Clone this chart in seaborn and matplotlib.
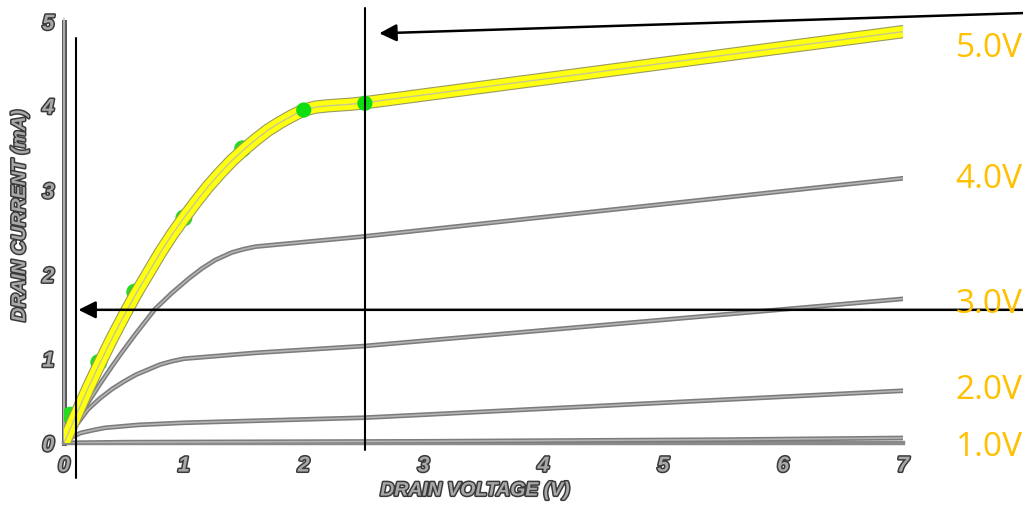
import matplotlib
matplotlib.use("Agg")
import matplotlib.pyplot as plt
import matplotlib.patheffects as pe
import numpy as np
import pandas as pd
import seaborn as sns

# ---------------- data ----------------
v_5v = [0, 0.1, 0.2, 0.3, 0.4, 0.5, 0.6, 0.7, 0.8, 0.9, 1.0, 1.1, 1.2, 1.3,
        1.4, 1.5, 1.6, 1.7, 1.8, 1.9, 2.0, 2.1, 2.2, 2.3, 2.4, 2.5, 7]
i_5v = [0, 0.33, 0.65, 0.95, 1.24, 1.51, 1.77, 2.01, 2.25, 2.47, 2.67, 2.86,
        3.04, 3.20, 3.35, 3.48, 3.60, 3.71, 3.80, 3.88, 3.95, 3.985, 4.0,
        4.01, 4.02, 4.035, 4.88]

v_4v = [0, 0.1, 0.2, 0.3, 0.4, 0.48, 0.6, 0.76, 0.9, 1.04, 1.15, 1.26, 1.4,
        1.5, 1.6, 2.5, 7]
i_4v = [0, 0.25, 0.48, 0.70, 0.91, 1.07, 1.30, 1.59, 1.78, 1.95, 2.07, 2.17,
        2.26, 2.30, 2.33, 2.45, 3.14]

v_3v = [0, 0.1, 0.2, 0.3, 0.4, 0.5, 0.6, 0.7, 0.8, 0.9, 1.0, 1.6, 2.5, 7]
i_3v = [0, 0.21, 0.40, 0.53, 0.64, 0.73, 0.81, 0.87, 0.93, 0.97, 1.0, 1.07,
        1.15, 1.71]

v_2v = [0, 0.05, 0.14, 0.25, 0.34, 0.5, 0.62, 1.0, 2.5, 7]
i_2v = [0, 0.06, 0.12, 0.155, 0.18, 0.20, 0.215, 0.24, 0.30, 0.62]

v_1v = [0, 0.5, 3, 5.5, 7]
i_1v = [0, 0.01, 0.02, 0.04, 0.06]

dot_v = [0.05, 0.29, 0.59, 1.0, 1.49, 2.0, 2.51]
dot_i = [0.33, 0.955, 1.79, 2.67, 3.49, 3.95, 4.03]
dot_on_top = [False, False, False, False, False, True, True]

gate_labels = ["5.0V", "4.0V", "3.0V", "2.0V", "1.0V"]
gate_label_y = [4.69, 3.14, 1.66, 0.63, -0.04]
gate_label_x = 7.44

x_ticks = [0, 1, 2, 3, 4, 5, 6, 7]
y_ticks = [0, 1, 2, 3, 4, 5]
x_label = "DRAIN VOLTAGE (V)"
y_label = "DRAIN CURRENT (mA)"

# annotation guides (data coordinates)
vline_x = 2.51
vline_y = [-0.08, 5.16]
leftline_x = 0.10
leftline_y = [-0.42, 4.80]
arrow_top_tail = (8.0, 5.10)
arrow_top_head = (2.63, 4.86)
arrow_mid_tail = (8.0, 1.58)
arrow_mid_head = (0.12, 1.58)

# ---------------- figure ----------------
sns.set_theme(style="white")
plt.rcParams["font.family"] = ["Liberation Sans", "DejaVu Sans"]

fig = plt.figure(figsize=(10.23, 5.06), dpi=100)
ax = fig.add_axes([0.0626, 0.1225, 0.8201, 0.833])

gray_curves = [(v_4v, i_4v), (v_3v, i_3v), (v_2v, i_2v), (v_1v, i_1v)]
for vv, ii in gray_curves:
    df = pd.DataFrame({"v": vv, "i": ii})
    sns.lineplot(data=df, x="v", y="i", ax=ax, sort=False, estimator=None,
                 color="#7c7c7c", lw=3.4, zorder=3)
    sns.lineplot(data=df, x="v", y="i", ax=ax, sort=False, estimator=None,
                 color="#b4b4b4", lw=1.2, zorder=3.1)

# dots partly hidden under the yellow band
dots = pd.DataFrame({"v": dot_v, "i": dot_i, "top": dot_on_top})
sns.scatterplot(data=dots[~dots["top"]], x="v", y="i", ax=ax, color="#22dd22",
                s=150, edgecolor="none", zorder=4, legend=False)

df5 = pd.DataFrame({"v": v_5v, "i": i_5v})
sns.lineplot(data=df5, x="v", y="i", ax=ax, sort=False, estimator=None,
             color="#9a9a60", lw=9.6, zorder=5)
sns.lineplot(data=df5, x="v", y="i", ax=ax, sort=False, estimator=None,
             color="#ffff10", lw=8.0, zorder=5.1)
sns.lineplot(data=df5, x="v", y="i", ax=ax, sort=False, estimator=None,
             color="#c8c890", lw=1.0, zorder=5.2)

sns.scatterplot(data=dots[dots["top"]], x="v", y="i", ax=ax, color="#10dd10",
                s=120, edgecolor="none", zorder=6, legend=False)

ax.set_xlim(0, 7)
ax.set_ylim(0, 5)
ax.set_xticks(x_ticks)
ax.set_yticks(y_ticks)
ax.set_xticklabels([str(t) for t in x_ticks])
ax.set_yticklabels([str(t) for t in y_ticks])

for s in ["top", "right"]:
    ax.spines[s].set_visible(False)
ax.spines["left"].set_color("#5a5a5a")
ax.spines["left"].set_linewidth(3.6)
ax.spines["bottom"].set_color("#8a8a8a")
ax.spines["bottom"].set_linewidth(3.2)
ax.spines["left"].set_zorder(2)
# light inner stripe of the double-lined axes
ax.plot([0, 0], [0, 5.04], color="#c8c8c8", lw=1.1, clip_on=False, zorder=2.5)
ax.plot([0, 7], [0, 0], color="#b8b8b8", lw=1.0, clip_on=False, zorder=2.5)

ax.tick_params(axis="x", direction="in", length=6, width=1.8, color="#333333",
               pad=9, labelsize=15.5)
ax.tick_params(axis="y", direction="in", length=4, width=1.6, color="#333333",
               pad=7, labelsize=15.5)
ax.grid(False)

fx = [pe.Stroke(linewidth=2.2, foreground="#3a3a3a"), pe.Normal()]
for lab in ax.get_xticklabels() + ax.get_yticklabels():
    lab.set_fontstyle("italic")
    lab.set_fontweight("bold")
    lab.set_color("#a8a8a8")
    lab.set_path_effects(fx)

lab_fam = ["Liberation Sans Narrow", "Liberation Sans"]
ax.set_xlabel(x_label, fontsize=14, fontstyle="italic", fontweight="bold",
              color="#a8a8a8", family=lab_fam, path_effects=fx, va="center")
ax.set_ylabel(y_label, fontsize=14, fontstyle="italic", fontweight="bold",
              color="#a8a8a8", family=lab_fam, path_effects=fx, va="center")
ax.xaxis.set_label_coords(0.49, -0.114)
ax.yaxis.set_label_coords(-0.052, 0.54)

# guide lines
ax.plot([vline_x, vline_x], vline_y, color="black", lw=1.5, clip_on=False, zorder=7)
ax.plot([leftline_x, leftline_x], leftline_y, color="black", lw=1.5, clip_on=False, zorder=7)

arrow_kw = dict(arrowstyle="-|>", color="black", lw=1.8, mutation_scale=26,
                shrinkA=0, shrinkB=0)
ax.annotate("", xy=arrow_top_head, xytext=arrow_top_tail, arrowprops=arrow_kw,
            annotation_clip=False, zorder=8)
ax.annotate("", xy=arrow_mid_head, xytext=arrow_mid_tail, arrowprops=arrow_kw,
            annotation_clip=False, zorder=8)

for lab, yy in zip(gate_labels, gate_label_y):
    ax.text(gate_label_x, yy, lab, color="#ffc000", fontsize=24,
            family=["Open Sans", "DejaVu Sans"], ha="left", va="center",
            clip_on=False, zorder=9)

fig.savefig("out.png", dpi=100)
